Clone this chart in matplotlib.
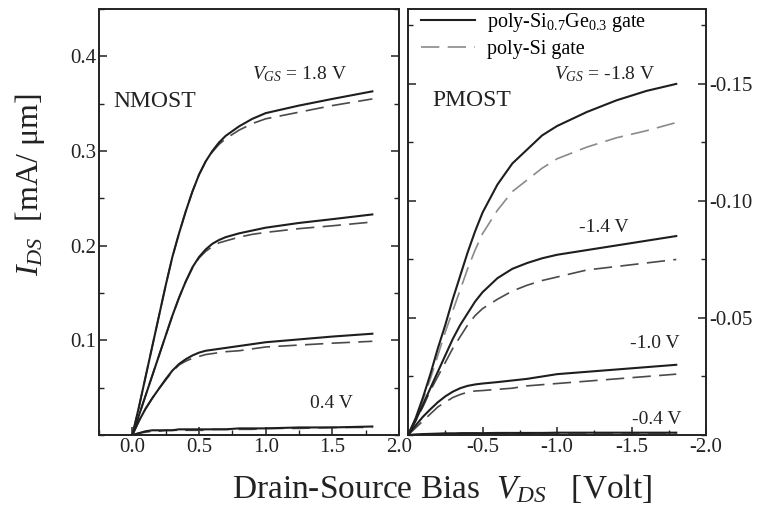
"""Output characteristics of NMOST / PMOST with poly-SiGe and poly-Si gates."""

import matplotlib

matplotlib.use("Agg")
import matplotlib.pyplot as plt
from matplotlib.ticker import MultipleLocator, FixedLocator

plt.rcParams["font.family"] = ["Liberation Serif", "DejaVu Serif"]
plt.rcParams["mathtext.fontset"] = "custom"
plt.rcParams["mathtext.rm"] = "Liberation Serif"
plt.rcParams["mathtext.it"] = "Liberation Serif:italic"
plt.rcParams["axes.unicode_minus"] = False

# ---- NMOST, I_DS in mA/um ----
vds_n = [0.0, 0.05, 0.1, 0.15, 0.2, 0.25, 0.3, 0.35, 0.4, 0.45, 0.5, 0.55, 0.6, 0.65, 0.7,
         0.8, 0.9, 1.0, 1.25, 1.5, 1.8]
n18_sige = [0.0, 0.030, 0.062, 0.094, 0.126, 0.158, 0.188, 0.213, 0.236, 0.257, 0.275, 0.289,
            0.300, 0.309, 0.316, 0.326, 0.334, 0.340, 0.348, 0.355, 0.363]
n18_si = [0.0, 0.030, 0.062, 0.094, 0.126, 0.158, 0.188, 0.213, 0.236, 0.257, 0.275, 0.289,
          0.299, 0.307, 0.313, 0.322, 0.329, 0.334, 0.341, 0.348, 0.355]
n14_sige = [0.0, 0.021, 0.042, 0.063, 0.084, 0.105, 0.126, 0.145, 0.162, 0.177, 0.188, 0.196,
            0.202, 0.206, 0.209, 0.213, 0.216, 0.219, 0.224, 0.228, 0.233]
n14_si = [0.0, 0.021, 0.042, 0.063, 0.084, 0.105, 0.126, 0.145, 0.162, 0.176, 0.187, 0.194,
          0.199, 0.203, 0.205, 0.209, 0.212, 0.214, 0.218, 0.221, 0.225]
n10_sige = [0.0, 0.015, 0.028, 0.039, 0.049, 0.059, 0.068, 0.075, 0.080, 0.084, 0.087, 0.089,
            0.090, 0.091, 0.092, 0.094, 0.096, 0.098, 0.101, 0.104, 0.107]
n10_si = [0.0, 0.015, 0.028, 0.039, 0.049, 0.058, 0.067, 0.074, 0.078, 0.081, 0.083, 0.085,
          0.086, 0.087, 0.088, 0.089, 0.091, 0.093, 0.095, 0.097, 0.099]
n04_sige = [0.0, 0.002, 0.004, 0.005, 0.005, 0.005, 0.005, 0.006, 0.006, 0.006, 0.006, 0.006,
            0.006, 0.006, 0.006, 0.007, 0.007, 0.007, 0.008, 0.008, 0.009]
n04_si = [0.0, 0.002, 0.003, 0.004, 0.004, 0.005, 0.005, 0.005, 0.005, 0.005, 0.005, 0.005,
          0.006, 0.006, 0.006, 0.006, 0.006, 0.007, 0.007, 0.008, 0.008]

# ---- PMOST ----
vds_p = [0.0, -0.05, -0.1, -0.15, -0.2, -0.25, -0.3, -0.35, -0.4, -0.45, -0.5, -0.6, -0.7,
         -0.8, -0.9, -1.0, -1.2, -1.4, -1.6, -1.8]
p18_sige = [0.0, -0.007, -0.016, -0.026, -0.037, -0.047, -0.058, -0.068, -0.078, -0.087,
            -0.095, -0.107, -0.116, -0.122, -0.128, -0.132, -0.138, -0.143, -0.147, -0.150]
p18_si = [0.0, -0.007, -0.015, -0.024, -0.034, -0.044, -0.053, -0.062, -0.071, -0.079,
          -0.086, -0.096, -0.104, -0.109, -0.114, -0.118, -0.123, -0.127, -0.130, -0.1335]
p14_sige = [0.0, -0.006, -0.013, -0.020, -0.027, -0.034, -0.041, -0.047, -0.052, -0.057,
            -0.061, -0.067, -0.071, -0.0735, -0.0755, -0.077, -0.079, -0.081, -0.083, -0.085]
p14_si = [0.0, -0.006, -0.012, -0.019, -0.025, -0.031, -0.037, -0.042, -0.047, -0.051,
          -0.054, -0.058, -0.0615, -0.064, -0.066, -0.0675, -0.0705, -0.072, -0.0735, -0.075]
p10_sige = [0.0, -0.004, -0.0078, -0.011, -0.014, -0.0165, -0.0185, -0.020, -0.021, -0.0216,
            -0.022, -0.0226, -0.0233, -0.024, -0.025, -0.026, -0.027, -0.028, -0.029, -0.030]
p10_si = [0.0, -0.003, -0.006, -0.009, -0.012, -0.014, -0.016, -0.0173, -0.0183, -0.0188,
          -0.019, -0.0195, -0.020, -0.021, -0.0215, -0.022, -0.023, -0.024, -0.025, -0.026]
p04_sige = [0.0, -0.0002, -0.0004, -0.0005, -0.0006, -0.0007, -0.0007, -0.0008, -0.0008,
            -0.0008, -0.0008, -0.0009, -0.0009, -0.0009, -0.0009, -0.001, -0.001, -0.001,
            -0.001, -0.001]
p04_si = [0.0, -0.0002, -0.0003, -0.0004, -0.0005, -0.0006, -0.0006, -0.0007, -0.0007,
          -0.0007, -0.0007, -0.0008, -0.0008, -0.0008, -0.0008, -0.0009, -0.0009, -0.0009,
          -0.0009, -0.0009]

SOLID = dict(color="#1e1e1e", linewidth=1.5, linestyle="-")
DASH = dict(color="#4a4a4a", linewidth=1.2, linestyle=(0, (11, 5)))
DASH_LIGHT = dict(color="#8a8a8a", linewidth=1.2, linestyle=(0, (11, 5)))
INK = "#222222"


def style_axis(ax):
    for spine in ax.spines.values():
        spine.set_linewidth(1.4)
        spine.set_color(INK)
    ax.tick_params(which="both", direction="in", top=False, left=True, right=True,
                   labelsize=15, pad=2, colors=INK)
    ax.tick_params(which="major", length=6, width=1.1)
    ax.tick_params(which="minor", length=3.5, width=1.0)


fig = plt.figure(figsize=(7.57, 5.11), dpi=100)
ax_n = fig.add_axes([0.1308, 0.1487, 0.3963, 0.8337])
ax_p = fig.add_axes([0.5390, 0.1487, 0.3937, 0.8337])

# NMOST panel
for sige, si in [(n18_sige, n18_si), (n14_sige, n14_si), (n10_sige, n10_si), (n04_sige, n04_si)]:
    ax_n.plot(vds_n, si, **DASH)
    ax_n.plot(vds_n, sige, **SOLID)
ax_n.set_xlim(-0.25, 2.0)
ax_n.set_ylim(0, 0.45)
ax_n.xaxis.set_major_locator(FixedLocator([0.0, 0.5, 1.0, 1.5, 2.0]))
ax_n.xaxis.set_minor_locator(MultipleLocator(0.25))
ax_n.yaxis.set_major_locator(FixedLocator([0.1, 0.2, 0.3, 0.4]))
ax_n.yaxis.set_minor_locator(MultipleLocator(0.05))
ax_n.xaxis.set_major_formatter(lambda v, pos: f"{v:.1f}")
ax_n.yaxis.set_major_formatter(lambda v, pos: f"{v:.1f}")
style_axis(ax_n)
ax_n.text(-0.145, 0.352, "NMOST", fontsize=17, va="center", ha="left", color=INK)
ax_n.text(0.90, 0.381, r"$V_{GS}$ = 1.8 V", fontsize=14, va="center", ha="left", color=INK)
ax_n.text(1.33, 0.033, "0.4 V", fontsize=14, va="center", ha="left", color=INK)

# PMOST panel
curves_p = [(p18_sige, p18_si, DASH_LIGHT), (p14_sige, p14_si, DASH),
            (p10_sige, p10_si, DASH), (p04_sige, p04_si, DASH)]
handles = []
for sige, si, dstyle in curves_p:
    h_si, = ax_p.plot(vds_p, si, **dstyle)
    h_sige, = ax_p.plot(vds_p, sige, **SOLID)
    handles.append((h_sige, h_si))
ax_p.set_xlim(0, -2.0)
ax_p.set_ylim(0, -0.182)
ax_p.xaxis.set_major_locator(FixedLocator([-0.5, -1.0, -1.5, -2.0]))
ax_p.xaxis.set_minor_locator(MultipleLocator(0.25))
ax_p.yaxis.set_major_locator(FixedLocator([-0.05, -0.10, -0.15]))
ax_p.yaxis.set_minor_locator(MultipleLocator(0.025))
ax_p.xaxis.set_major_formatter(lambda v, pos: f"{v:.1f}")
ax_p.yaxis.set_major_formatter(lambda v, pos: f"{v:.2f}")
style_axis(ax_p)
ax_p.tick_params(axis="y", labelleft=False, labelright=True)
ax_p.text(-0.165, -0.143, "PMOST", fontsize=17, va="center", ha="left", color=INK)
ax_p.text(-0.98, -0.154, r"$V_{GS}$ = -1.8 V", fontsize=14, va="center", ha="left", color=INK)
ax_p.text(-1.145, -0.0885, "-1.4 V", fontsize=14, va="center", ha="left", color=INK)
ax_p.text(-1.49, -0.0393, "-1.0 V", fontsize=14, va="center", ha="left", color=INK)
ax_p.text(-1.50, -0.0068, "-0.4 V", fontsize=14, va="center", ha="left", color=INK)
ax_p.legend(list(handles[0]), [r"poly-Si$_{0.7}$Ge$_{0.3}$ gate", "poly-Si gate"],
            loc="upper left", bbox_to_anchor=(0.015, 1.014), frameon=False, fontsize=14.5,
            handlelength=2.7, handletextpad=0.6, labelspacing=0.3,
            borderaxespad=0.2, borderpad=0.2)

fig.text(0.040, 0.638, r"$I_{DS}$  [mA/ μm]", rotation=90, fontsize=23,
         ha="center", va="center", color=INK)
fig.text(0.584, 0.045, r"Drain-Source Bias  $V_{DS}$   [Volt]", fontsize=24,
         ha="center", va="center", color=INK)

fig.savefig("out.png", dpi=100)
